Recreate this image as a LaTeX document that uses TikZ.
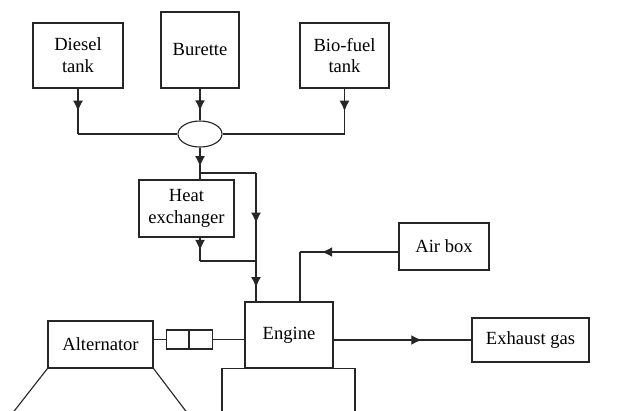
\documentclass[tikz,border=0pt]{standalone}
\usepackage{fontspec}
\setmainfont{Liberation Serif}
\usetikzlibrary{arrows.meta, calc, shapes.geometric, decorations.markings}

\begin{document}
\begin{tikzpicture}[
    x=0.025cm, y=-0.025cm,
    font=\fontsize{13.2}{15.5}\selectfont,
    line width=0.8pt,
    % --- Styles ---
    unit/.style={draw=black!85, line width=0.8pt, fill=white, inner sep=0pt, align=center, minimum width=#1},
    valve/.style={draw=black!85, line width=0.8pt, ellipse, inner sep=0pt, minimum width=1.1cm, minimum height=0.65cm},
    clutch/.style={draw=black!85, line width=0.8pt, inner sep=0pt, minimum width=0.5625cm, minimum height=0.475cm},
    pipe/.style={draw=black!85, line width=0.8pt},
    flow/.style={pipe, postaction={decorate}, decoration={markings, mark=at position #1 with {\arrow{Latex[length=7.5pt, width=7pt]}}}},
]

    \useasboundingbox (0,0) rectangle (623,410);
    \clip (0,0) rectangle (623,410);

    % ==========================
    % 1. FUEL SUPPLY (Top)
    % ==========================
    \node[unit=2.25cm, minimum height=1.625cm] (diesel) at (78, 55.5) {Diesel\\tank};
    \node[unit=1.95cm, minimum height=1.9cm] (burette) at (200, 50) {Burette};
    \node[unit=2.225cm, minimum height=1.625cm] (biofuel) at (344.5, 55.5) {Bio-fuel\\tank};

    \node[valve] (mix) at (200, 134) {};
    \coordinate (dj) at (78, 134);
    \coordinate (bj) at (344.5, 134);

    \draw[flow=0.5] (diesel.south) -- (dj);
    \draw[pipe] (dj) -- (mix.west);
    \draw[flow=0.7] (burette.south) -- (mix.north);
    \draw[flow=0.5] (biofuel.south) -- (bj);
    \draw[pipe] (bj) -- (mix.east);

    % ==========================
    % 2. HEAT EXCHANGER + BYPASS
    % ==========================
    \node[unit=2.375cm, minimum height=1.425cm] (hx) at (186.5, 208.5) {Heat\\exchanger};

    \coordinate (split) at (200, 173);
    \coordinate (split_r) at (256, 173);
    \coordinate (hx_out) at (200, 261);
    \coordinate (merge) at (256, 261);

    \draw[flow=0.6] (mix.south) -- (mix.south |- hx.north);
    \draw[pipe] (split) -- (split_r);
    \draw[flow=0.57] (split_r) -- (merge);
    \draw[flow=0.55] (hx_out |- hx.south) -- (hx_out);
    \draw[pipe] (hx_out) -- (merge);

    % ==========================
    % 3. ENGINE
    % ==========================
    \node[unit=2.2cm, minimum height=1.65cm] (engine) at (289, 335) {Engine};
    \node[draw=black!85, line width=0.8pt, minimum width=3.325cm, minimum height=1.6cm, anchor=north, inner sep=0pt] (base) at (288.5, 368) {};

    \coordinate (eng_in) at (256, 302);
    \draw[flow=0.65] (merge) -- (eng_in);

    % Air intake
    \node[unit=2.25cm, minimum height=1.175cm] (airbox) at (444, 246.5) {Air box};
    \coordinate (air_turn) at (300, 252);
    \coordinate (air_in) at (300, 302);
    \draw[flow=0.78] (airbox.west |- air_turn) -- (air_turn);
    \draw[pipe] (air_turn) -- (air_in);

    % Exhaust
    \node[unit=2.925cm, minimum height=1.1cm] (exhaust) at (530.5, 340) {Exhaust gas};
    \draw[flow=0.64] (engine.east |- exhaust.west) -- (exhaust.west);

    % ==========================
    % 4. ALTERNATOR + COUPLING
    % ==========================
    \node[unit=2.625cm, minimum height=1.175cm] (alt) at (100.5, 344.5) {Alternator};
    \node[clutch] (cp1) at (177.5, 339.5) {};
    \node[clutch, anchor=west] (cp2) at (cp1.east) {};

    \draw[pipe] (alt.east |- cp1.west) -- (cp1.west);
    \draw[pipe] (cp2.east) -- (engine.west |- cp2.east);

    % Alternator stand
    \coordinate (stand_l) at (15, 410);
    \coordinate (stand_r) at (185, 410);
    \draw[pipe] (alt.south west) -- ($(alt.south west)!1.3!(stand_l)$);
    \draw[pipe] (alt.south east) -- ($(alt.south east)!1.3!(stand_r)$);

\end{tikzpicture}
\end{document}
